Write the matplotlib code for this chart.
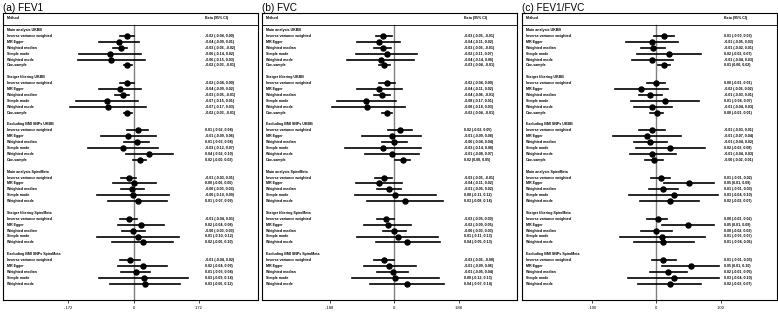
import matplotlib.pyplot as plt

plt.rcParams['font.family'] = ['Liberation Sans', 'DejaVu Sans']

groups = ["Main analysis UKBB", "Steiger filtering UKBB", "Excluding BMI SNPs UKBB",
          "Main analysis SpiroMeta", "Steiger filtering SpiroMeta", "Excluding BMI SNPs SpiroMeta"]
methods_ukbb = ["Inverse variance weighted", "MR Egger", "Weighted median",
                "Simple mode", "Weighted mode", "One-sample"]
methods_spiro = methods_ukbb[:5]
group_methods = [methods_ukbb, methods_ukbb, methods_ukbb,
                 methods_spiro, methods_spiro, methods_spiro]

# FEV1
fev1_est = [-0.018, -0.039, -0.034, -0.063, -0.059, -0.017,
            -0.017, -0.036, -0.029, -0.070, -0.067, -0.017,
            0.011, -0.014, 0.008, -0.027, 0.042, 0.017,
            -0.012, 0.002, -0.003, -0.002, 0.011,
            -0.012, 0.019, -0.001, 0.011, 0.024,
            -0.009, 0.024, 0.006, 0.027, 0.031]
fev1_lo = [-0.036, -0.090, -0.055, -0.144, -0.146, -0.026,
           -0.036, -0.092, -0.050, -0.151, -0.167, -0.026,
           -0.017, -0.085, -0.025, -0.121, -0.020, -0.001,
           -0.033, -0.055, -0.034, -0.095, -0.068,
           -0.036, -0.042, -0.031, -0.095, -0.056,
           -0.036, -0.042, -0.033, -0.090, -0.061]
fev1_hi = [0.001, 0.014, -0.017, 0.019, 0.029, -0.005,
           0.001, 0.020, -0.011, 0.011, 0.034, -0.005,
           0.039, 0.060, 0.040, 0.065, 0.103, 0.034,
           0.007, 0.059, 0.027, 0.093, 0.087,
           0.010, 0.079, 0.029, 0.120, 0.105,
           0.017, 0.089, 0.043, 0.144, 0.122]

# FVC
fvc_est = [-0.032, -0.044, -0.034, -0.022, -0.040, -0.030,
           -0.020, -0.044, -0.035, -0.082, -0.078, -0.022,
           0.018, -0.008, -0.001, -0.032, -0.006, 0.024,
           -0.031, -0.044, -0.015, 0.003, 0.032,
           -0.025, -0.019, -0.001, 0.010, 0.038,
           -0.029, -0.014, -0.005, 0.002, 0.036]
fvc_lo = [-0.054, -0.107, -0.058, -0.110, -0.137, -0.044,
          -0.044, -0.108, -0.058, -0.166, -0.182, -0.035,
          -0.017, -0.094, -0.036, -0.142, -0.084, 0.002,
          -0.056, -0.111, -0.050, -0.113, -0.078,
          -0.050, -0.087, -0.034, -0.108, -0.054,
          -0.058, -0.088, -0.049, -0.122, -0.070]
fvc_hi = [-0.006, 0.018, -0.010, 0.065, 0.058, -0.012,
          0.002, 0.022, -0.012, 0.005, 0.032, -0.007,
          0.050, 0.079, 0.036, 0.079, 0.072, 0.046,
          -0.006, 0.022, 0.019, 0.121, 0.142,
          0.000, 0.049, 0.033, 0.128, 0.132,
          -0.001, 0.062, 0.041, 0.129, 0.143]

# FEV1/FVC
ratio_est = [0.012, -0.007, -0.005, 0.020, -0.006, 0.012,
             0.000, -0.023, -0.009, 0.014, -0.006, 0.001,
             -0.007, -0.014, -0.009, 0.022, -0.006, -0.004,
             0.007, 0.051, 0.011, 0.027, 0.021,
             0.002, 0.049, 0.000, 0.009, 0.011,
             0.011, 0.054, 0.018, 0.028, 0.022]
ratio_lo = [-0.003, -0.047, -0.023, -0.030, -0.037, 0.003,
            -0.014, -0.064, -0.027, -0.039, -0.035, -0.009,
            -0.027, -0.067, -0.035, -0.032, -0.041, -0.018,
            -0.008, 0.012, -0.011, -0.042, -0.026,
            -0.014, 0.009, -0.023, -0.056, -0.035,
            -0.007, 0.009, -0.010, -0.044, -0.028]
ratio_hi = [0.027, 0.034, 0.013, 0.069, 0.026, 0.022,
            0.014, 0.018, 0.009, 0.067, 0.025, 0.011,
            0.014, 0.039, 0.017, 0.076, 0.030, 0.011,
            0.022, 0.090, 0.033, 0.096, 0.067,
            0.017, 0.089, 0.025, 0.075, 0.058,
            0.030, 0.098, 0.047, 0.098, 0.070]

panels = [
    ("(a) FEV1", fev1_est, fev1_lo, fev1_hi, (-0.344, 0.328), [-0.172, 0, 0.172], ["-.172", "0", ".172"], 3),
    ("(b) FVC", fvc_est, fvc_lo, fvc_hi, (-0.3845, 0.3566), [-0.188, 0, 0.188], ["-.188", "0", ".188"], 262),
    ("(c) FEV1/FVC", ratio_est, ratio_lo, ratio_hi, (-0.2088, 0.1877), [-0.1, 0, 0.1], ["-.100", "0", ".100"], 522),
]

W, H = 778, 315
fig = plt.figure(figsize=(W / 100, H / 100), dpi=100)

row_gap = 5.9
ylim = ((300 - 30) / row_gap, (13 - 30) / row_gap)
header_y = (18 - 30) / row_gap
line_y = (25 - 30) / row_gap
fs = 2.6

for title, est, lo, hi, xlim, ticks, tlabels, left_px in panels:
    ax = fig.add_axes([left_px / W, 15 / H, 255 / W, 287 / H])
    ax.set_xlim(*xlim)
    ax.set_ylim(*ylim)
    for s in ax.spines.values():
        s.set_linewidth(0.8)
    ax.set_yticks([])
    ax.set_xticks(ticks)
    ax.set_xticklabels(tlabels)
    ax.tick_params(axis='x', length=2, width=0.5, pad=2, labelsize=3)

    ax.axhline(line_y, color='black', lw=0.6)
    ax.plot([0, 0], [line_y, ylim[0]], color='#808080', lw=1.0, zorder=1)

    ax.text(0.015, header_y, "Method", fontsize=fs, fontweight='bold', va='center',
            transform=ax.get_yaxis_transform())
    ax.text(0.792, header_y, "Beta (95% CI)", fontsize=fs, fontweight='bold', va='center',
            transform=ax.get_yaxis_transform())

    row = 0
    k = 0
    for g, meths in zip(groups, group_methods):
        ax.text(0.015, row, g, fontsize=fs, fontweight='bold', va='center',
                transform=ax.get_yaxis_transform())
        row += 1
        for m in meths:
            ax.text(0.015, row, m, fontsize=fs, fontweight='bold', va='center',
                    transform=ax.get_yaxis_transform())
            ax.plot([lo[k], hi[k]], [row, row], color='black', lw=1.2, zorder=2)
            ax.plot(est[k], row, 'o', color='black', ms=3.6, zorder=3)
            ax.text(0.792, row, f"{est[k]:.2f} ({lo[k]:.2f}, {hi[k]:.2f})", fontsize=fs,
                    fontweight='bold', va='center', transform=ax.get_yaxis_transform())
            row += 1
            k += 1
        row += 1

    fig.text(left_px / W, 1 - 3 / H, title, fontsize=7.2, va='top', ha='left')

fig.savefig("out.png", dpi=100)
